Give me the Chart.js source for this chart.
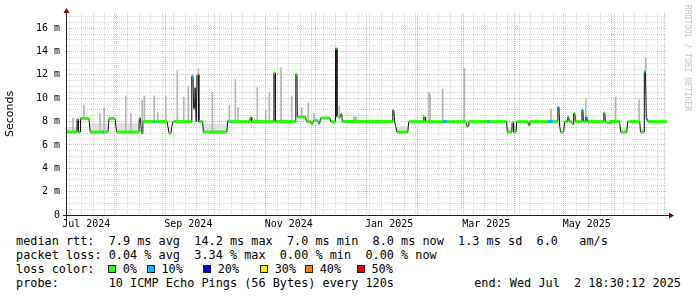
<!DOCTYPE html>
<html>
<head>
<meta charset="utf-8">
<title>SmokePing last year</title>
<script src="https://cdn.jsdelivr.net/npm/chart.js@4.4.1/dist/chart.umd.min.js"></script>
<style>
  html, body { margin: 0; padding: 0; background: #fff; }
  #page { position: relative; width: 697px; height: 297px; overflow: hidden; font-family: "DejaVu Sans Mono", monospace; color: #000; }
  #graph { position: absolute; left: 0; top: 0; }
  .txt { position: absolute; font-size: 11.85px; line-height: 14px; white-space: pre; }
  .swatch { position: absolute; top: 265px; width: 6px; height: 6px; border: 1px solid #202020; }
  #credit { position: absolute; left: 683px; top: 5px; writing-mode: vertical-rl; font-size: 8px; line-height: 9px; color: #c4c4c4; white-space: pre; }
</style>
</head>
<body>
<div id="page">
  <canvas id="graph" width="697" height="234"></canvas>
  <div id="credit">RRDTOOL / TOBI OETIKER</div>
</div>
<script>
// days since 2024-07-01 00:00, values in ms
const medianDays = [
  2.3, 8.3, 8.4, 9.1, 9.2, 10.2, 10.5, 15.6, 16.4, 23.9,
  24.8, 27.2, 27.8, 31.5, 32.4, 46.0, 46.2, 46.9, 47.5, 48.0,
  48.4, 55.0, 55.8, 63.0, 63.6, 64.3, 65.4, 66.0, 66.6, 78.0,
  78.1, 78.8, 79.2, 79.8, 80.1, 80.5, 80.8, 81.2, 81.3, 82.0,
  82.4, 83.2, 84.7, 85.1, 99.4, 99.9, 100.6, 113.4, 113.6, 114.2,
  114.5, 127.9, 128.0, 128.7, 128.9, 141.2, 141.3, 142.0, 142.2, 142.9,
  147.3, 147.8, 150.3, 150.7, 151.5, 152.0, 154.6, 155.0, 155.8, 156.3,
  162.0, 162.5, 165.3, 165.4, 166.1, 166.3, 168.4, 168.6, 169.2, 169.6,
  200.1, 200.2, 200.8, 201.3, 202.0, 202.7, 209.3, 209.9, 219.0, 219.2,
  219.8, 220.1, 230.6, 233.2, 244.6, 245.0, 245.9, 246.4, 257.5, 259.3,
  269.3, 269.8, 272.5, 272.7, 273.3, 273.6, 275.0, 275.5, 282.2, 282.6,
  283.1, 283.5, 294.5, 297.5, 300.4, 300.5, 301.1, 301.6, 302.1, 304.0,
  304.6, 306.3, 306.5, 307.0, 307.4, 308.9, 309.2, 309.7, 310.0, 310.2,
  310.8, 311.1, 315.0, 315.1, 315.7, 316.0, 317.3, 317.5, 318.1, 318.4,
  328.3, 328.4, 329.0, 329.3, 330.9, 332.2, 332.6, 338.0, 338.6, 342.3,
  342.9, 350.2, 350.7, 352.9, 353.0, 353.7, 354.2, 355.0, 355.3, 366.8
];
const medianMs = [
  7.1, 7.1, 8.2, 8.2, 7.1, 7.1, 8.27, 8.27, 7.1, 7.1,
  7.1, 7.1, 8.27, 8.27, 7.1, 7.1, 8.3, 8.3, 7.0, 7.0,
  8.0, 8.0, 8.0, 8.0, 7.6, 7.0, 7.0, 7.6, 8.0, 8.0,
  11.9, 11.9, 9.1, 9.1, 10.9, 10.9, 8.0, 8.0, 12.0, 12.0,
  8.0, 8.0, 8.0, 7.1, 7.1, 8.0, 8.0, 8.0, 8.35, 8.35,
  8.0, 8.0, 12.17, 12.17, 8.0, 8.0, 12.06, 12.06, 8.4, 8.4,
  8.4, 8.0, 8.0, 7.8, 7.8, 8.1, 8.1, 7.85, 7.85, 8.3,
  8.3, 8.0, 8.0, 14.26, 14.26, 8.4, 8.4, 8.64, 8.64, 8.0,
  8.0, 8.98, 8.98, 8.0, 7.6, 7.1, 7.1, 8.0, 8.0, 8.38,
  8.38, 8.0, 8.0, 8.0, 8.0, 7.6, 7.6, 8.0, 8.0, 8.0,
  8.0, 7.1, 7.1, 7.9, 7.9, 7.1, 7.1, 8.0, 8.0, 7.7,
  7.7, 8.0, 8.0, 8.0, 8.0, 9.26, 9.26, 7.6, 7.1, 7.1,
  8.0, 8.0, 8.4, 8.4, 8.0, 8.0, 7.8, 7.8, 8.0, 8.7,
  8.7, 8.0, 8.0, 8.98, 8.98, 8.0, 8.0, 8.4, 8.4, 8.0,
  8.0, 8.75, 8.75, 8.0, 7.9, 7.9, 8.0, 8.0, 7.1, 7.1,
  8.0, 8.0, 7.1, 7.1, 12.26, 12.26, 8.2, 8.2, 8.0, 8.0
];
// packet loss (%) of the step that starts at each median point
const medianLoss = [
  0, 0, 0, 0, 0, 0, 0, 0, 0, 10,
  0, 0, 0, 0, 0, 0, 0, 0, 0, 0,
  0, 10, 0, 0, 0, 0, 0, 0, 0, 0,
  10, 0, 0, 0, 0, 0, 0, 0, 0, 0,
  10, 0, 0, 0, 0, 10, 0, 0, 0, 0,
  0, 0, 0, 0, 0, 0, 0, 0, 10, 0,
  0, 0, 0, 0, 0, 0, 0, 10, 0, 0,
  0, 0, 0, 0, 0, 0, 0, 10, 0, 0,
  0, 10, 0, 0, 0, 0, 0, 0, 0, 0,
  0, 0, 10, 0, 0, 0, 0, 0, 10, 0,
  0, 0, 0, 0, 0, 0, 0, 0, 0, 0,
  0, 0, 10, 0, 0, 10, 0, 0, 0, 0,
  0, 0, 10, 0, 0, 0, 0, 0, 0, 0,
  0, 0, 0, 10, 0, 0, 0, 10, 0, 0,
  0, 0, 0, 0, 0, 0, 0, 0, 0, 0,
  0, 0, 0, 0, 10, 0, 10, 0, 0, 0
];

// grey smoke: single slow pings above the median
const smokeDays = [6.0, 12.6, 22.3, 24.9, 38.0, 41.2, 48.0, 49.3, 55.3, 57.4,
  62.3, 69.3, 73.2, 76.0, 82.2, 90.6, 100.9, 104.6, 106.2, 117.9,
  123.0, 125.2, 132.3, 138.8, 144.9, 148.9, 152.4, 167.7, 176.5, 177.3,
  178.1, 218.8, 222.2, 222.9, 230.5, 243.7, 296.3, 317.4, 335.6, 349.8, 353.8];
const smokeLow = [7.1, 8.27, 7.1, 7.1, 7.1, 7.1, 8.0, 8.0, 8.0, 8.0,
  8.0, 8.0, 8.0, 8.0, 8.0, 7.1, 8.0, 8.0, 8.0, 8.0,
  8.0, 8.0, 8.0, 8.0, 8.4, 8.0, 8.0, 8.4, 8.0, 8.0,
  8.0, 8.0, 8.0, 8.0, 8.0, 8.0, 8.0, 8.0, 8.0, 8.0, 12.26];
const smokeHigh = [8.3, 9.4, 8.7, 9.15, 10.2, 8.7, 9.8, 10.2, 10.2, 8.8,
  10.2, 12.35, 10.1, 11.0, 12.5, 10.5, 9.4, 11.6, 9.2, 10.9,
  9.0, 10.5, 12.6, 10.2, 9.2, 9.6, 8.7, 9.35, 8.4, 8.4,
  8.4, 8.6, 10.5, 10.3, 10.8, 12.55, 9.1, 10.0, 10.1, 9.85, 13.5];

// light smoke above the low (7 ms) periods
const bandStart = [2.3, 16.4, 32.4, 85.1, 202.7, 269.8, 338.6, 350.7];
const bandEnd = [8.3, 27.2, 46.0, 99.4, 209.3, 275.0, 342.3, 352.9];
const bandTop = [7.5, 7.85, 7.85, 7.8, 7.6, 7.5, 7.5, 7.5];

const yTickLabels = ['0', '2 m', '4 m', '6 m', '8 m', '10 m', '12 m', '14 m', '16 m'];
const monthLabels = ['Jul 2024', 'Sep 2024', 'Nov 2024', 'Jan 2025', 'Mar 2025', 'May 2025'];
const monthLabelDates = ['2024-07-15', '2024-09-15', '2024-11-15', '2025-01-15', '2025-03-15', '2025-05-15'];

const lossLevels = ['0%', '10%', '20%', '30%', '40%', '50%'];
const lossColors = ['#22ff00', '#00b8ff', '#0000ff', '#ffee00', '#ff8000', '#ee0000'];

const legendRows = [
  'median rtt:  7.9 ms avg  14.2 ms max  7.0 ms min  8.0 ms now  1.3 ms sd  6.0   am/s',
  'packet loss: 0.04 % avg  3.34 % max  0.00 % min  0.00 % now'
];
const lossTitle = 'loss color:';
const probeText = 'probe:       10 ICMP Echo Pings (56 Bytes) every 120s';
const endText = 'end: Wed Jul  2 18:30:12 2025';

// ---- helpers ----
const DAY0 = Date.UTC(2024, 6, 1);
function dayOf(s) {
  return (Date.parse(s + 'Z') - DAY0) / 864e5;
}
const xMax = dayOf('2025-07-02T18:30:12');
const xMin = 2.3;

function lossColor(pct) {
  return lossColors[Math.min(lossColors.length - 1, Math.round(pct / 10))];
}

// month starts (major grid) and weekly lines (minor grid)
const monthStarts = [];
for (let m = 7; m <= 18; m++) {
  monthStarts.push((Date.UTC(2024, m, 1) - DAY0) / 864e5);
}
const gridDays = monthStarts.slice();
for (let d = 4.1; d < xMax; d += 7) {
  if (monthStarts.every(ms => Math.abs(ms - d) > 0.5)) gridDays.push(d);
}
gridDays.sort((a, b) => a - b);

const MAJOR = 'rgba(228,96,96,0.5)';
const MINOR = 'rgba(150,150,150,0.38)';

const medianData = medianDays.map((d, i) => ({x: d, y: medianMs[i]}));
const smokeData = smokeDays.map((d, i) => ({x: d, y: [smokeLow[i], smokeHigh[i]]}));
const bandData = [];
for (let i = 0; i < bandStart.length; i++) {
  bandData.push({x: bandStart[i], y: bandTop[i]});
  bandData.push({x: bandEnd[i], y: bandTop[i]});
  bandData.push({x: bandEnd[i] + 0.01, y: null});
}

// axes + arrows, rrdtool style
const axisArrows = {
  id: 'axisArrows',
  afterDraw(chart) {
    const {ctx, chartArea: a} = chart;
    ctx.save();
    ctx.strokeStyle = '#212121';
    ctx.lineWidth = 1;
    ctx.beginPath();
    ctx.moveTo(a.left - 4, a.bottom + 0.5);
    ctx.lineTo(a.right + 3, a.bottom + 0.5);
    ctx.moveTo(a.left - 0.5, a.bottom + 4);
    ctx.lineTo(a.left - 0.5, a.top - 1);
    ctx.stroke();
    ctx.fillStyle = '#800000';
    ctx.beginPath();
    ctx.moveTo(a.right + 2, a.bottom - 2.5);
    ctx.lineTo(a.right + 7, a.bottom + 0.5);
    ctx.lineTo(a.right + 2, a.bottom + 3.5);
    ctx.fill();
    ctx.beginPath();
    ctx.moveTo(a.left - 3.5, a.top);
    ctx.lineTo(a.left - 0.5, a.top - 5);
    ctx.lineTo(a.left + 2.5, a.top);
    ctx.fill();
    ctx.restore();
  }
};

Chart.defaults.font.family = '"DejaVu Sans Mono", monospace';
Chart.defaults.color = '#000';

new Chart(document.getElementById('graph'), {
  type: 'line',
  data: {
    datasets: [
      {
        type: 'line',
        data: bandData,
        borderWidth: 0,
        pointRadius: 0,
        backgroundColor: '#dedede',
        fill: {value: 7.1},
        spanGaps: false,
        order: 5
      },
      {
        type: 'bar',
        data: smokeData,
        backgroundColor: '#b4b4b4',
        borderWidth: 0,
        barThickness: 1,
        order: 4
      },
      {
        type: 'line',
        data: medianData,
        borderColor: '#111',
        borderWidth: 1,
        pointRadius: 0,
        order: 2
      },
      {
        type: 'line',
        data: medianData,
        borderWidth: 3,
        borderColor: lossColors[0],
        borderCapStyle: 'butt',
        pointRadius: 0,
        order: 1,
        segment: {
          borderColor: ctx => {
            if (Math.abs(ctx.p1.parsed.y - ctx.p0.parsed.y) > 0.12) return 'rgba(0,0,0,0)';
            return lossColor(medianLoss[ctx.p0DataIndex]);
          }
        }
      }
    ]
  },
  options: {
    responsive: false,
    devicePixelRatio: 1,
    animation: false,
    events: [],
    layout: {padding: {top: 13, right: 30, left: 0, bottom: 0}},
    plugins: {legend: {display: false}, tooltip: {enabled: false}},
    scales: {
      x: {
        type: 'linear',
        min: xMin,
        max: xMax,
        offset: false,
        afterBuildTicks: scale => { scale.ticks = gridDays.map(v => ({value: v})); },
        afterFit: scale => { scale.height = 0; },
        ticks: {display: false, autoSkip: false},
        grid: {
          offset: false,
          drawTicks: false,
          color: ctx => monthStarts.includes(ctx.tick.value) ? MAJOR : MINOR
        },
        border: {display: false, dash: [1, 1]}
      },
      xl: {
        type: 'linear',
        position: 'bottom',
        min: xMin,
        max: xMax,
        offset: false,
        afterBuildTicks: scale => { scale.ticks = monthLabelDates.map(s => ({value: dayOf(s + 'T00:00:00')})); },
        afterFit: scale => { scale.height = 19; },
        ticks: {
          autoSkip: false,
          maxRotation: 0,
          padding: 3,
          font: {size: 10},
          callback: (v, i) => monthLabels[i]
        },
        grid: {display: false, drawTicks: false},
        border: {display: false}
      },
      y: {
        min: 0,
        max: 17.3,
        afterBuildTicks: scale => {
          const t = [];
          for (let v = 0; v <= 17; v += 0.5) t.push({value: v});
          scale.ticks = t;
        },
        afterFit: scale => { scale.width = 67; },
        ticks: {
          autoSkip: false,
          padding: 7,
          font: {size: 10},
          callback: v => (v % 2 === 0 ? yTickLabels[v / 2] : '')
        },
        grid: {
          drawTicks: false,
          color: ctx => ctx.tick.value % 2 === 0 ? MAJOR : MINOR
        },
        border: {display: false, dash: [1, 1]},
        title: {
          display: true,
          text: 'Seconds',
          font: {family: '"DejaVu Sans", sans-serif', size: 11},
          padding: {top: 3.4, bottom: 0}
        }
      }
    }
  },
  plugins: [axisArrows]
});

// ---- text legend below the graph ----
const page = document.getElementById('page');
function addText(text, left, top) {
  const el = document.createElement('div');
  el.className = 'txt';
  el.textContent = text;
  el.style.left = left + 'px';
  el.style.top = top + 'px';
  page.appendChild(el);
  return el;
}
addText(legendRows[0], 16, 234);
addText(legendRows[1], 16, 248);
addText(lossTitle, 16, 262);
const swatchX = [108, 146.7, 203, 260, 305, 356.7];
lossLevels.forEach((lvl, i) => {
  const sw = document.createElement('div');
  sw.className = 'swatch';
  sw.style.left = swatchX[i] + 'px';
  sw.style.background = lossColors[i];
  page.appendChild(sw);
  addText(lvl, swatchX[i] + 14.7, 262);
});
addText(probeText, 16, 276);
const endEl = addText(endText, 0, 276);
endEl.style.left = 'auto';
endEl.style.right = '16px';
</script>
</body>
</html>
